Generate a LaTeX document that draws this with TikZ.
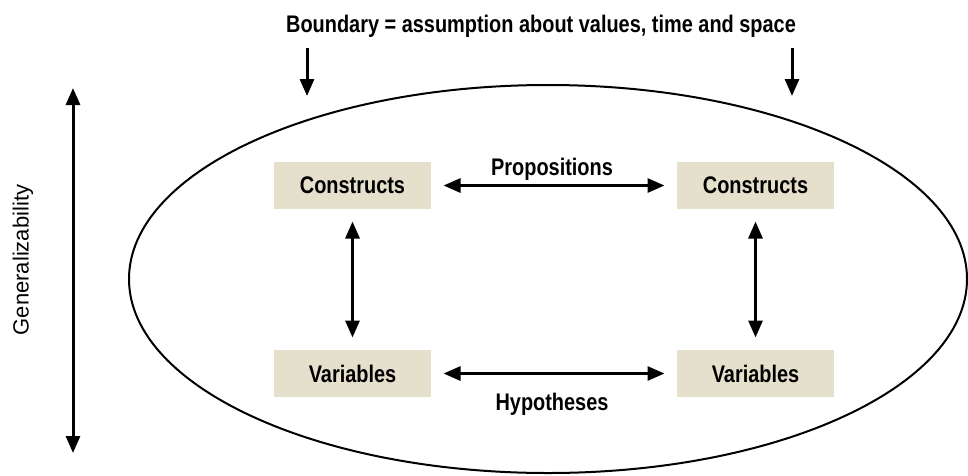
\documentclass[tikz,border=0pt]{standalone}
\usepackage{fontspec}
\setmainfont{Liberation Sans}
\newfontfamily\schmal[FakeStretch=0.83]{Liberation Sans}
\usetikzlibrary{arrows.meta}
\definecolor{kasten}{RGB}{229,224,204}
\begin{document}
\begin{tikzpicture}[x=1pt,y=-1pt,line width=3pt,
      >={Triangle[length=17pt,width=14pt]},
      pfeil/.style={shorten <=11pt, shorten >=11pt, line width=3pt},
      mybox/.style={fill=kasten,minimum width=157pt,minimum height=47pt,inner sep=0pt},
      mytext/.style={font=\schmal\bfseries\fontsize{24}{28}\selectfont}]
    \useasboundingbox (0,0) rectangle (968,475);
    \draw[line width=2pt] (548,279) ellipse [x radius=419, y radius=194];
    \node[mybox,mytext] at (352.5,185.5) [rectangle] (C1) {Constructs};
    \node[mybox,mytext] at (755.5,185.5) [rectangle] (C2) {Constructs};
    \node[mybox,mytext] at (352.5,373.5) [rectangle] (V1) {Variables};
    \node[mybox,mytext] at (755.5,373.5) [rectangle] (V2) {Variables};
    \draw[pfeil,<->] (C1)--(C2) ;
    \draw[pfeil,<->] (V1)--(V2) ;
    \draw[pfeil,<->] (C1)--(V1) ;
    \draw[pfeil,<->] (C2)--(V2) ;
    \node[mytext,anchor=base] at (552,175) (P) {Propositions};
    \node[mytext,anchor=base] at (552,410) (H) {Hypotheses};
    \node[mytext,anchor=base] at (541,32) (B) {Boundary = assumption about values, time and space};
    \coordinate (L0) at (307,48); \coordinate (L1) at (307,96);
    \coordinate (R0) at (792,48); \coordinate (R1) at (792,96);
    \draw[->] (L0)--(L1) ;
    \draw[->] (R0)--(R1) ;
    \coordinate (G0) at (73,88); \coordinate (G1) at (73,453);
    \draw[<->] (G0)--(G1) ;
    \node[rotate=90,font=\fontsize{22}{26}\selectfont] at (23,260) (G) {Generalizability};
\end{tikzpicture}
\end{document}
